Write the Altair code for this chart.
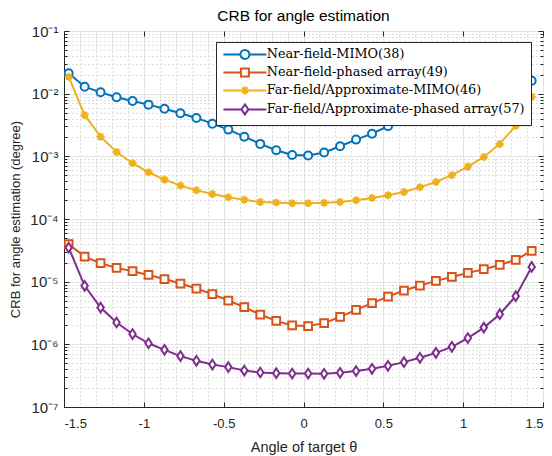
import altair as alt
import pandas as pd

theta = [-1.4708, -1.3708, -1.2708, -1.1708, -1.0708, -0.9708, -0.8708, -0.7708, -0.6708, -0.5708,
         -0.4708, -0.3708, -0.2708, -0.1708, -0.0708, 0.0292, 0.1292, 0.2292, 0.3292, 0.4292,
         0.5292, 0.6292, 0.7292, 0.8292, 0.9292, 1.0292, 1.1292, 1.2292, 1.3292, 1.4292]

nf_mimo = [0.0211, 0.0129, 0.0105, 0.00877, 0.00765, 0.00668, 0.00576, 0.00487, 0.00410, 0.00332,
           0.00267, 0.00206, 0.00158, 0.00125, 0.00105, 0.00103, 0.00115, 0.00145, 0.00185, 0.00230,
           0.00302, 0.00371, 0.00441, 0.0053, 0.0062, 0.0072, 0.0083, 0.0097, 0.0118, 0.0161]
nf_pa = [3.96e-5, 2.51e-5, 1.97e-5, 1.66e-5, 1.47e-5, 1.28e-5, 1.10e-5, 9.33e-6, 7.76e-6, 6.32e-6,
         5.00e-6, 3.92e-6, 2.99e-6, 2.37e-6, 2.00e-6, 1.96e-6, 2.18e-6, 2.75e-6, 3.55e-6, 4.54e-6,
         5.78e-6, 7.21e-6, 8.67e-6, 1.03e-5, 1.19e-5, 1.38e-5, 1.58e-5, 1.85e-5, 2.23e-5, 3.10e-5]
ff_mimo = [0.01867, 4.53e-3, 2.06e-3, 1.175e-3, 7.76e-4, 5.57e-4, 4.25e-4, 3.41e-4, 2.88e-4, 2.51e-4,
           2.23e-4, 2.02e-4, 1.87e-4, 1.83e-4, 1.79e-4, 1.79e-4, 1.81e-4, 1.87e-4, 2.00e-4, 2.17e-4,
           2.40e-4, 2.70e-4, 3.21e-4, 3.91e-4, 5.00e-4, 6.85e-4, 9.78e-4, 1.58e-3, 3.09e-3, 8.95e-3]
ff_pa = [3.50e-5, 8.57e-6, 3.86e-6, 2.23e-6, 1.46e-6, 1.04e-6, 8.17e-7, 6.49e-7, 5.46e-7, 4.76e-7,
         4.33e-7, 3.82e-7, 3.55e-7, 3.47e-7, 3.42e-7, 3.42e-7, 3.39e-7, 3.51e-7, 3.74e-7, 4.07e-7,
         4.54e-7, 5.20e-7, 6.10e-7, 7.31e-7, 9.12e-7, 1.26e-6, 1.85e-6, 3.03e-6, 5.87e-6, 1.72e-5]

names = ["Near-field-MIMO(38)", "Near-field-phased array(49)",
         "Far-field/Approximate-MIMO(46)", "Far-field/Approximate-phased array(57)"]
colors = ["#0072BD", "#D95319", "#EDB120", "#7E2F8E"]

x_major = [-1.5, -1.0, -0.5, 0.0, 0.5, 1.0, 1.5]
x_minor = [-1.4, -1.3, -1.2, -1.1, -0.9, -0.8, -0.7, -0.6, -0.4, -0.3, -0.2, -0.1,
           0.1, 0.2, 0.3, 0.4, 0.6, 0.7, 0.8, 0.9, 1.1, 1.2, 1.3, 1.4]
y_major = [1e-7, 1e-6, 1e-5, 1e-4, 1e-3, 1e-2, 1e-1]
y_minor = [m * d for d in [1e-7, 1e-6, 1e-5, 1e-4, 1e-3, 1e-2] for m in range(2, 10)]

rows = []
for name, vals in zip(names, [nf_mimo, nf_pa, ff_mimo, ff_pa]):
    for t, v in zip(theta, vals):
        rows.append({"theta": t, "value": v, "series": name})
df = pd.DataFrame(rows)

xs = alt.Scale(domain=[-1.5, 1.5], nice=False, zero=False)
ys = alt.Scale(type="log", domain=[1e-7, 1e-1], nice=False)
AX = "#262626"
SANS = "Liberation Sans"

def no_axis_x():
    return alt.X("theta:Q", scale=xs, axis=None)

def no_axis_y():
    return alt.Y("value:Q", scale=ys, axis=None)

base = alt.Chart(df)

# minor grid
l_minor = base.mark_point(opacity=0).encode(
    x=alt.X("theta:Q", scale=xs, axis=alt.Axis(values=x_minor, grid=True, gridDash=[1, 3],
            gridColor="#bdbdbd", labels=False, ticks=False, domain=False, title=None, orient="bottom")),
    y=alt.Y("value:Q", scale=ys, axis=alt.Axis(values=y_minor, grid=True, gridDash=[1, 3],
            gridColor="#bdbdbd", labels=False, ticks=False, domain=False, title=None, orient="left")),
)

y_label_expr = ("'10' + ['\u207b\u2077','\u207b\u2076','\u207b\u2075','\u207b\u2074','\u207b\u00b3','\u207b\u00b2','\u207b\u00b9']"
                "[round(log(datum.value)/LN10)+7]")
x_label_expr = "replace(format(datum.value, '~g'), '\u2212', '-')"

l_major = base.mark_point(opacity=0).encode(
    x=alt.X("theta:Q", scale=xs, axis=alt.Axis(values=x_major, grid=True, gridColor="#e3e3e3",
            labels=True, ticks=False, domain=True, domainColor=AX, title="Angle of target θ",
            orient="bottom", labelExpr=x_label_expr, labelFontSize=13, labelColor=AX, labelPadding=10,
            titleFontSize=14.5, titleColor=AX, titleFontWeight="normal", titlePadding=10,
            labelFont=SANS, titleFont=SANS)),
    y=alt.Y("value:Q", scale=ys, axis=alt.Axis(values=y_major, grid=True, gridColor="#e3e3e3",
            labels=True, ticks=False, domain=True, domainColor=AX,
            title="CRB for angle estimation (degree)", orient="left", labelExpr=y_label_expr,
            labelFontSize=15, labelColor=AX, labelPadding=6, titleFontSize=13, titleColor=AX,
            titleFontWeight="normal", titlePadding=7,
            labelFont=SANS, titleFont=SANS)),
)

def tick_axis(vals, orient, size):
    return alt.Axis(values=vals, grid=False, labels=False, ticks=True, tickSize=size,
                    tickColor=AX, tickWidth=1, domain=False, title=None, orient=orient,
                    offset=-size)

l_tb = base.mark_point(opacity=0).encode(
    x=alt.X("theta:Q", scale=xs, axis=tick_axis(x_major, "bottom", 5)),
    y=alt.Y("value:Q", scale=ys, axis=tick_axis(y_major, "left", 5)),
)
l_tt = base.mark_point(opacity=0).encode(
    x=alt.X("theta:Q", scale=xs, axis=tick_axis(x_major, "top", 5)),
    y=alt.Y("value:Q", scale=ys, axis=tick_axis(y_major, "right", 5)),
)
l_yl = base.mark_point(opacity=0).encode(
    x=no_axis_x(),
    y=alt.Y("value:Q", scale=ys, axis=tick_axis(y_minor, "left", 3)),
)
l_yr = base.mark_point(opacity=0).encode(
    x=no_axis_x(),
    y=alt.Y("value:Q", scale=ys, axis=tick_axis(y_minor, "right", 3)),
)

marker_shapes = [
    "circle",
    "square",
    "M-1,0H1M0,-1V1M-0.7,-0.7L0.7,0.7M-0.7,0.7L0.7,-0.7",
    "M0,-1.2L0.8,0L0,1.2L-0.8,0Z",
]
marker_sizes = [64, 60, 64, 64]

data_layers = []
for name, col, shp, sz in zip(names, colors, marker_shapes, marker_sizes):
    sub = base.transform_filter(alt.datum.series == name)
    line = sub.mark_line(color=col, strokeWidth=2, clip=True).encode(
        x=no_axis_x(), y=no_axis_y(), order="theta:Q")
    pts = sub.mark_point(shape=shp, size=sz, filled=True, fill="white", stroke=col,
                         strokeWidth=2, opacity=1, clip=True).encode(x=no_axis_x(), y=no_axis_y())
    data_layers += [line, pts]

legend_paths = [
    "M-1,0H2.4M4.2,0H7.6M4.2,0A0.9,0.9 0 1,1 2.4,0A0.9,0.9 0 1,1 4.2,0Z",
    "M-1,0H2.5M4.1,0H7.6M2.5,-0.8H4.1V0.8H2.5Z",
    "M-1,0H7.6M3.3,-0.85V0.85M2.7,-0.6L3.9,0.6M2.7,0.6L3.9,-0.6",
    "M-1,0H2.6M4.0,0H7.6M3.3,-1L4.0,0L3.3,1L2.6,0Z",
]
leg = alt.Legend(title=None, orient="none", legendX=152, legendY=11, padding=6,
                 fillColor="white", strokeColor=AX, labelFont="DejaVu Serif",
                 labelFontSize=12.8, labelColor="black", symbolSize=100, symbolStrokeWidth=2,
                 labelOffset=32, rowPadding=1, labelLimit=400)
l_legend = base.transform_filter("false").mark_point(filled=False, strokeWidth=2, opacity=1).encode(
    x=no_axis_x(), y=no_axis_y(),
    color=alt.Color("series:N", scale=alt.Scale(domain=names, range=colors), legend=leg, sort=names),
    shape=alt.Shape("series:N", scale=alt.Scale(domain=names, range=legend_paths), legend=leg, sort=names),
)

chart = alt.layer(l_minor, l_major, l_tb, l_tt, l_yl, l_yr, *data_layers, l_legend).resolve_axis(
    x="independent", y="independent"
).properties(
    width=479, height=376,
    title=alt.Title("CRB for angle estimation", fontSize=15.5, font=SANS,
                    fontWeight="normal", color="black", offset=0),
    autosize=alt.AutoSizeParams(type="none"),
    padding={"left": 64, "top": 31, "right": 9, "bottom": 49},
).configure_view(stroke=AX, strokeWidth=1).configure(background="white")

chart.save("out.html", embed_options={"renderer": "svg", "actions": False})
